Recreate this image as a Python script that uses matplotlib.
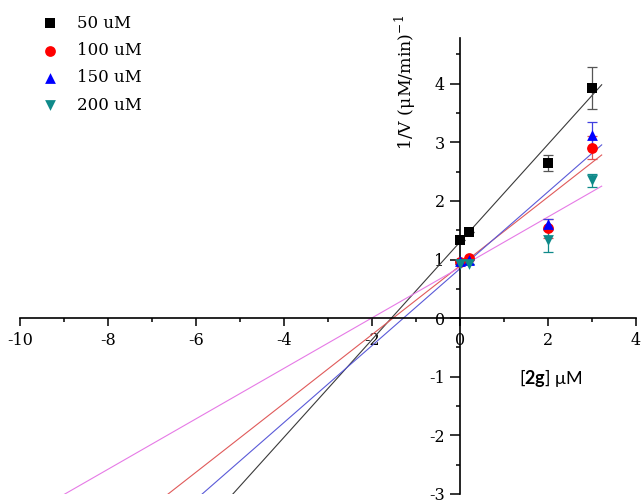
import matplotlib
matplotlib.use("Agg")
import matplotlib.pyplot as plt
import numpy as np
from matplotlib.ticker import MultipleLocator

plt.rcParams['axes.unicode_minus'] = False
plt.rcParams['font.family'] = ['DejaVu Serif']
plt.rcParams['mathtext.fontset'] = 'custom'
plt.rcParams['mathtext.rm'] = 'DejaVu Serif'
plt.rcParams['mathtext.bf'] = 'Lato:bold'

# ---- data ----
conc = [0, 0.2, 2, 3]
labels = ["50 uM", "100 uM", "150 uM", "200 uM"]
y50 = [1.34, 1.47, 2.65, 3.93]
y100 = [0.95, 1.03, 1.53, 2.91]
y150 = [0.97, 1.00, 1.60, 3.13]
y200 = [0.93, 0.92, 1.33, 2.35]
e50 = [0.0, 0.0, 0.14, 0.36]
e100 = [0.0, 0.0, 0.17, 0.19]
e150 = [0.0, 0.0, 0.10, 0.22]
e200 = [0.0, 0.0, 0.20, 0.11]
# fitted lines (slope, intercept)
slopes = [0.833, 0.587, 0.656, 0.4305]
intercepts = [1.30, 0.894, 0.844, 0.866]
fit_x_range = [-10, 3.22]

series = [y50, y100, y150, y200]
errs = [e50, e100, e150, e200]
markers = ['s', 'o', '^', 'v']
mcolors = ['#000000', '#ff0000', '#0000ff', '#0f8a8a']
ecolors = ['#555555', '#e05050', '#4040e0', '#0f8a8a']
lcolors = ['#3a3a3a', '#e05a5a', '#5a5ad8', '#e67ae6']

fig = plt.figure(figsize=(6.43, 5.01), dpi=100)
ax = fig.add_axes([20/643, 7/501, 616/643, 456/501])
ax.set_xlim(-10, 4)
ax.set_ylim(-3, 4.78)

xs = np.array(fit_x_range)
for s, b, c in zip(slopes, intercepts, lcolors):
    ax.plot(xs, s*xs + b, color=c, lw=0.8, zorder=2)

handles = []
for ys, es, m, mc, ec, lab in zip(series, errs, markers, mcolors, ecolors, labels):
    ax.errorbar(conc, ys, yerr=es, fmt='none', ecolor=ec, elinewidth=0.9,
                capsize=3.3, capthick=0.9, zorder=3)
    h = ax.scatter(conc, ys, marker=m, s=60, color=mc, zorder=4, label=lab,
                   linewidths=0)
    handles.append(h)

for side in ['top', 'right']:
    ax.spines[side].set_visible(False)
ax.spines['left'].set_position(('data', 0))
ax.spines['bottom'].set_position(('data', 0))
ax.spines['left'].set_linewidth(1.2)
ax.spines['bottom'].set_linewidth(1.2)

ax.xaxis.set_major_locator(MultipleLocator(2))
ax.xaxis.set_minor_locator(MultipleLocator(1))
ax.yaxis.set_major_locator(MultipleLocator(1))
ax.yaxis.set_minor_locator(MultipleLocator(0.5))
ax.tick_params(which='major', direction='out', length=6, width=1.1, labelsize=11.5, pad=4)
ax.tick_params(which='minor', direction='out', length=3.2, width=1.1)
ax.tick_params(axis='y', which='major', length=7, pad=4)

ax.legend(handles=handles, loc='upper left', bbox_to_anchor=(0.012, 1.073),
          frameon=False, fontsize=12, handletextpad=0.9, labelspacing=0.62,
          handlelength=1.5, borderaxespad=0.2)

fig.text(405/643, 1 - 82/501, r'1/V (μM/min)$^{-1}$', rotation=90,
         ha='center', va='center', fontsize=12.5)
fig.text(551/643, 1 - 378/501, r'[$\mathbf{2g}$] μM', ha='center', va='center',
         fontsize=13, family='Lato')

fig.savefig('out.png', dpi=100)
